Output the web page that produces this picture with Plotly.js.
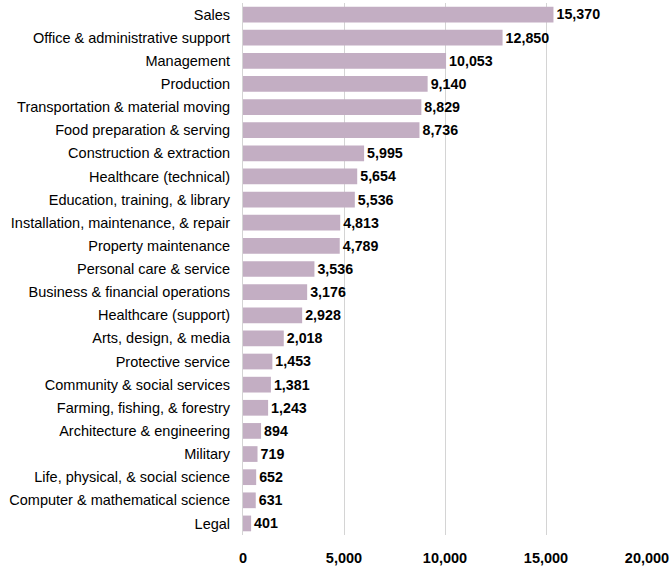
<!DOCTYPE html>
<html>
<head>
<meta charset="utf-8">
<script src="https://cdn.plot.ly/plotly-3.0.1.min.js"></script>
<style>html,body{margin:0;padding:0;background:#fff;}#chart{width:671px;height:567px;}</style>
</head>
<body>
<div id="chart"></div>
<script>
const categories = [
  "Sales",
  "Office & administrative support",
  "Management",
  "Production",
  "Transportation & material moving",
  "Food preparation & serving",
  "Construction & extraction",
  "Healthcare (technical)",
  "Education, training, & library",
  "Installation, maintenance, & repair",
  "Property maintenance",
  "Personal care & service",
  "Business & financial operations",
  "Healthcare (support)",
  "Arts, design, & media",
  "Protective service",
  "Community & social services",
  "Farming, fishing, & forestry",
  "Architecture & engineering",
  "Military",
  "Life, physical, & social science",
  "Computer & mathematical science",
  "Legal"
];
const values = [15370, 12850, 10053, 9140, 8829, 8736, 5995, 5654, 5536, 4813, 4789, 3536, 3176, 2928, 2018, 1453, 1381, 1243, 894, 719, 652, 631, 401];
const tickVals = [0, 5000, 10000, 15000, 20000];
const tickText = ["0", "5,000", "10,000", "15,000", "20,000"];

const FONT = 'Liberation Sans, Arial, sans-serif';

const trace = {
  type: 'bar',
  orientation: 'h',
  x: values,
  y: categories,
  marker: {color: '#c3aec3'},
  text: values.map(v => v.toLocaleString('en-US')),
  textposition: 'outside',
  cliponaxis: false,
  textfont: {family: FONT, size: 14.5, color: '#000', weight: 'bold'},
  hoverinfo: 'x+y'
};

const layout = {
  width: 671,
  height: 567,
  margin: {l: 243, r: 24, t: 3, b: 32, pad: 0},
  paper_bgcolor: '#fff',
  plot_bgcolor: '#fff',
  bargap: 0.32,
  showlegend: false,
  font: {family: FONT, size: 14.5, color: '#000'},
  xaxis: {
    range: [0, 20000],
    tickvals: tickVals,
    ticktext: tickText,
    showgrid: true,
    gridcolor: '#d4d4d4',
    gridwidth: 1,
    zeroline: false,
    showline: false,
    ticks: '',
    ticklabelstandoff: 12,
    tickfont: {family: FONT, size: 14.5, color: '#000', weight: 'bold'},
    fixedrange: true
  },
  yaxis: {
    autorange: 'reversed',
    type: 'category',
    showgrid: false,
    zeroline: false,
    showline: true,
    linecolor: '#d4d4d4',
    linewidth: 1,
    ticks: '',
    ticklabelstandoff: 9,
    tickfont: {family: FONT, size: 14.5, color: '#000'},
    fixedrange: true
  }
};

Plotly.newPlot('chart', [trace], layout, {displayModeBar: false, staticPlot: true});
</script>
</body>
</html>
